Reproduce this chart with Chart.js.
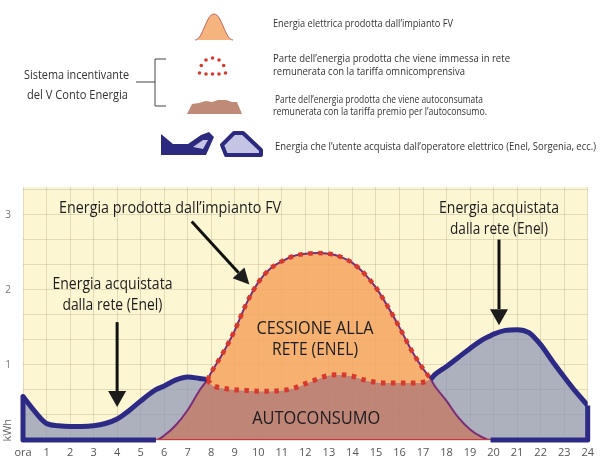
<!DOCTYPE html>
<html>
<head>
<meta charset="utf-8">
<script src="https://cdn.jsdelivr.net/npm/chart.js@4.4.0/dist/chart.umd.min.js"></script>
<style>
  html, body { margin: 0; padding: 0; background: #fff; }
  #wrap { position: relative; width: 600px; height: 468px; }
  #grafico, #legenda { position: absolute; left: 0; top: 0; }
</style>
</head>
<body>
<div id="wrap">
  <canvas id="grafico" width="600" height="468"></canvas>
  <svg id="legenda" width="600" height="175" xmlns="http://www.w3.org/2000/svg"
       font-family="'Open Sans', sans-serif" fill="#333">
    <!-- produzione FV -->
    <path d="M195,40 C203,40 206,14 214,14 C222,14 225,40 233,40 Z" fill="#f5b47e"/>
    <path d="M195,40 C203,40 206,14 214,14 C222,14 225,40 233,40" fill="none" stroke="#c0605a" stroke-width="1"/>
    <text x="273" y="23" font-size="10" textLength="180" lengthAdjust="spacingAndGlyphs" dominant-baseline="central">Energia elettrica prodotta dall’impianto FV</text>

    <!-- immessa in rete -->
    <g fill="#d63a2e">
      <circle cx="199.5" cy="73" r="1.8"/><circle cx="201.3" cy="65.5" r="1.8"/>
      <circle cx="206" cy="60" r="1.8"/><circle cx="212.5" cy="58" r="1.8"/>
      <circle cx="219" cy="60" r="1.8"/><circle cx="223.7" cy="65.5" r="1.8"/>
      <circle cx="225.5" cy="73" r="1.8"/><circle cx="206" cy="74" r="1.8"/>
      <circle cx="212.5" cy="74" r="1.8"/><circle cx="219" cy="74" r="1.8"/>
    </g>
    <text x="273" y="58" font-size="10" textLength="237" lengthAdjust="spacingAndGlyphs" dominant-baseline="central">Parte dell’energia prodotta che viene immessa in rete</text>
    <text x="273" y="71" font-size="10" textLength="192" lengthAdjust="spacingAndGlyphs" dominant-baseline="central">remunerata con la tariffa omnicomprensiva</text>

    <!-- graffa sistema incentivante -->
    <g stroke="#444" stroke-width="1" fill="none">
      <path d="M166,59 H155 V106 H166"/>
      <path d="M136,82 H155"/>
    </g>
    <text x="24" y="74" font-size="13" textLength="105" lengthAdjust="spacingAndGlyphs" dominant-baseline="central">Sistema incentivante</text>
    <text x="27" y="94" font-size="13" textLength="101" lengthAdjust="spacingAndGlyphs" dominant-baseline="central">del V Conto Energia</text>

    <!-- autoconsumo -->
    <path d="M187,114 L192,104 L199,103 L206,101 L212,102 L218,100 L226,100 L232,102 L237,102 L242,114 Z" fill="#c08a78"/>
    <text x="275" y="99" font-size="10" textLength="208" lengthAdjust="spacingAndGlyphs" dominant-baseline="central">Parte dell’energia prodotta che viene autoconsumata</text>
    <text x="273" y="111" font-size="10" textLength="214" lengthAdjust="spacingAndGlyphs" dominant-baseline="central">remunerata con la tariffa premio per l’autoconsumo.</text>

    <!-- energia acquistata -->
    <path d="M161,134 L173,144 L188,144 L201,135 L209,132 L214,137 L206,155 L161,155 Z" fill="#2b2a7e"/>
    <path d="M193,147 L203,140 L208,140 L203,149 Z" fill="#c4c4e4"/>
    <path d="M234,133 L243,133 L261,150 L261,155 L226,155 L222,145 Z" fill="#c4c4e4" stroke="#2b2a7e" stroke-width="4" stroke-linejoin="round"/>
    <text x="275" y="146" font-size="10" textLength="321" lengthAdjust="spacingAndGlyphs" dominant-baseline="central">Energia che l’utente acquista dall’operatore elettrico (Enel, Sorgenia, ecc.)</text>
  </svg>
</div>

<script>
// ore del giorno e curve in kWh
var ore = [0, 0.5, 1, 1.5, 2, 2.5, 3, 3.5, 4, 4.5, 5, 5.65, 6, 6.5, 7, 7.5, 7.83,
  8, 8.5, 9, 9.5, 10, 10.5, 11, 11.5, 12, 12.5, 13, 13.5, 14, 14.5, 15, 15.5, 16, 16.5, 17,
  17.33, 17.5, 18, 18.5, 19, 19.5, 19.87, 20, 20.5, 21, 21.5, 22, 22.5, 23, 23.5, 24];

var consumo = [0.58, 0.38, 0.22, 0.19, 0.18, 0.18, 0.19, 0.22, 0.28, 0.39, 0.52, 0.67, 0.72, 0.8, 0.84, 0.82, 0.8,
  0.74, 0.69, 0.67, 0.66, 0.65, 0.65, 0.66, 0.69, 0.75, 0.81, 0.86, 0.87, 0.85, 0.8, 0.77, 0.76, 0.76, 0.76, 0.77,
  0.81, 0.87, 0.98, 1.1, 1.22, 1.33, 1.39, 1.41, 1.46, 1.47, 1.43, 1.27, 1.05, 0.84, 0.64, 0.46];

var produzione = [0, 0, 0, 0, 0, 0, 0, 0, 0, 0, 0, 0, 0.06, 0.2, 0.4, 0.66, 0.8,
  0.9, 1.16, 1.46, 1.82, 2.1, 2.28, 2.38, 2.45, 2.48, 2.49, 2.48, 2.44, 2.36, 2.22, 2.03, 1.78, 1.5, 1.2, 0.95,
  0.81, 0.72, 0.52, 0.3, 0.14, 0.04, 0, 0, 0, 0, 0, 0, 0, 0, 0, 0];

var etichetteOre = ['ora', '1', '2', '3', '4', '5', '6', '7', '8', '9', '10', '11', '12',
  '13', '14', '15', '16', '17', '18', '19', '20', '21', '22', '23', '24'];
var righeY = [0, 1 / 3, 2 / 3, 1, 4 / 3, 5 / 3, 2, 7 / 3, 8 / 3, 3, 10 / 3];
var yTacche = [1, 2, 3];

// incroci produzione/consumo e inizio/fine produzione
var incrocioMattina = 7.83, incrocioSera = 17.33;
var inizioFV = 5.65, fineFV = 19.87;

var FONT = "'Open Sans', sans-serif";
var BLU = '#2d2a86', ROSSO = '#d8392c';

var autoconsumo = ore.map(function (h, i) { return Math.min(consumo[i], produzione[i]); });

function punti(valori) {
    return ore.map(function (h, i) { return { x: h, y: valori[i] }; });
}

function nelTratto(ctx) {
    return ctx.p0.parsed.x >= incrocioMattina && ctx.p1.parsed.x <= incrocioSera;
}

var sfondo = {
    id: 'sfondo',
    beforeDraw: function (chart) {
        var a = chart.chartArea, ctx = chart.ctx;
        ctx.save();
        ctx.fillStyle = '#fdf6d3';
        ctx.fillRect(a.left, a.top, a.right - a.left, a.bottom - a.top);
        ctx.restore();
    }
};

function freccia(ctx, x0, y0, x1, y1, lung, larg) {
    var ang = Math.atan2(y1 - y0, x1 - x0);
    var bx = x1 - lung * Math.cos(ang), by = y1 - lung * Math.sin(ang);
    ctx.beginPath();
    ctx.moveTo(x0, y0);
    ctx.lineTo(bx, by);
    ctx.stroke();
    ctx.beginPath();
    ctx.moveTo(x1, y1);
    ctx.lineTo(bx + larg * Math.sin(ang), by - larg * Math.cos(ang));
    ctx.lineTo(bx - larg * Math.sin(ang), by + larg * Math.cos(ang));
    ctx.closePath();
    ctx.fill();
}

// testo stretto in orizzontale fino alla larghezza voluta
function testo(ctx, s, x, y, larghezza) {
    var w = ctx.measureText(s).width;
    ctx.save();
    ctx.translate(x, y);
    ctx.scale(larghezza / w, 1);
    ctx.fillText(s, 0, 0);
    ctx.restore();
}

var note = {
    id: 'note',
    afterDatasetsDraw: function (chart) {
        var ctx = chart.ctx, sx = chart.scales.x, sy = chart.scales.y;
        function px(h) { return sx.getPixelForValue(h); }
        function py(v) { return sy.getPixelForValue(v); }
        ctx.save();
        ctx.fillStyle = '#1c1c1c';
        ctx.strokeStyle = '#111';
        ctx.lineWidth = 3;
        ctx.textAlign = 'center';
        ctx.textBaseline = 'middle';

        ctx.font = '17px ' + FONT;
        testo(ctx, 'Energia prodotta dall’impianto FV', px(6.25), py(3.09), 222);
        testo(ctx, 'Energia acquistata', px(3.8), py(2.07), 120);
        testo(ctx, 'dalla rete (Enel)', px(3.8), py(1.8), 100);
        testo(ctx, 'Energia acquistata', px(20.23), py(3.09), 120);
        testo(ctx, 'dalla rete (Enel)', px(20.23), py(2.81), 98);
        ctx.font = '19px ' + FONT;
        testo(ctx, 'CESSIONE ALLA', px(12.41), py(1.49), 117);
        testo(ctx, 'RETE (ENEL)', px(12.41), py(1.2), 86);
        testo(ctx, 'AUTOCONSUMO', px(12.46), py(0.29), 128);

        freccia(ctx, px(7.17), py(2.91), px(9.62), py(2.07), 16, 8);
        freccia(ctx, px(4.0), py(1.57), px(4.0), py(0.44), 16, 9);
        freccia(ctx, px(20.23), py(2.67), px(20.23), py(1.53), 16, 9);

        ctx.font = '11px ' + FONT;
        ctx.fillStyle = '#666';
        ctx.translate(chart.chartArea.left - 15, py(0.13));
        ctx.rotate(-Math.PI / 2);
        ctx.fillText('kWh', 0, 0);
        ctx.restore();
    }
};

var ctx = document.getElementById('grafico').getContext('2d');
new Chart(ctx, {
    type: 'line',
    data: {
        datasets: [{
            // bordo sinistro: verticale a ora 0 e base fino all'inizio produzione
            data: [{ x: 0, y: consumo[0] }, { x: 0, y: 0 }, { x: inizioFV, y: 0 }],
            borderColor: BLU, borderWidth: 5, tension: 0, fill: false,
            borderJoinStyle: 'round', clip: false
        }, {
            data: [{ x: fineFV, y: 0 }, { x: 24, y: 0 }, { x: 24, y: consumo[consumo.length - 1] }],
            borderColor: BLU, borderWidth: 5, tension: 0, fill: false,
            borderJoinStyle: 'round', clip: false
        }, {
            // base rossa sottile sotto la produzione
            data: [{ x: inizioFV, y: 0 }, { x: fineFV, y: 0 }],
            borderColor: '#d0343a', borderWidth: 2, tension: 0, fill: false
        }, {
            // produzione immessa in rete (puntinato)
            data: punti(produzione),
            borderColor: ROSSO, borderWidth: 4.5, borderDash: [4.5, 5.5],
            cubicInterpolationMode: 'monotone', fill: false,
            segment: {
                borderColor: function (c) { return nelTratto(c) ? ROSSO : 'rgba(0,0,0,0)'; }
            }
        }, {
            // consumo
            data: punti(consumo),
            borderColor: BLU, borderWidth: 5, borderJoinStyle: 'round',
            cubicInterpolationMode: 'monotone', fill: false,
            segment: {
                borderColor: function (c) { return nelTratto(c) ? ROSSO : undefined; },
                borderDash: function (c) { return nelTratto(c) ? [4.5, 5.5] : undefined; }
            }
        }, {
            // produzione: contorno sottile e riempimento verso il consumo
            data: punti(produzione),
            borderColor: '#7c2d78', borderWidth: 2,
            cubicInterpolationMode: 'monotone',
            fill: { target: 4, above: 'rgba(244,165,95,0.85)', below: 'rgba(140,150,180,0.72)' }
        }, {
            // autoconsumo
            data: punti(autoconsumo),
            borderWidth: 0, borderColor: 'rgba(0,0,0,0)',
            backgroundColor: 'rgba(184,122,110,0.9)',
            cubicInterpolationMode: 'monotone', fill: 'origin'
        }]
    },
    options: {
        responsive: false,
        animation: false,
        layout: { padding: { top: 187, right: 9, left: 0, bottom: 0 } },
        elements: { point: { radius: 0, hitRadius: 0 } },
        plugins: {
            legend: { display: false },
            tooltip: { enabled: false },
            filler: { drawTime: 'beforeDatasetsDraw' }
        },
        scales: {
            x: {
                type: 'linear', min: 0, max: 24,
                afterBuildTicks: function (axis) {
                    axis.ticks = etichetteOre.map(function (t, i) { return { value: i }; });
                },
                afterFit: function (axis) { axis.height = 28; },
                ticks: {
                    autoSkip: false, maxRotation: 0, padding: 6,
                    color: '#555', font: { family: FONT, size: 11 },
                    callback: function (v, i) { return etichetteOre[i]; }
                },
                grid: { color: 'rgba(160,150,110,0.28)', drawTicks: false },
                border: { display: false }
            },
            y: {
                min: 0, max: 3.37,
                afterBuildTicks: function (axis) {
                    axis.ticks = righeY.map(function (v) { return { value: v }; });
                },
                afterFit: function (axis) { axis.width = 23; },
                ticks: {
                    padding: 12, color: '#777', font: { family: FONT, size: 10 },
                    callback: function (v) { return yTacche.indexOf(v) >= 0 ? String(v) : ''; }
                },
                grid: { color: 'rgba(160,150,110,0.28)', drawTicks: false },
                border: { display: false }
            }
        }
    },
    plugins: [sfondo, note]
});
</script>
</body>
</html>
